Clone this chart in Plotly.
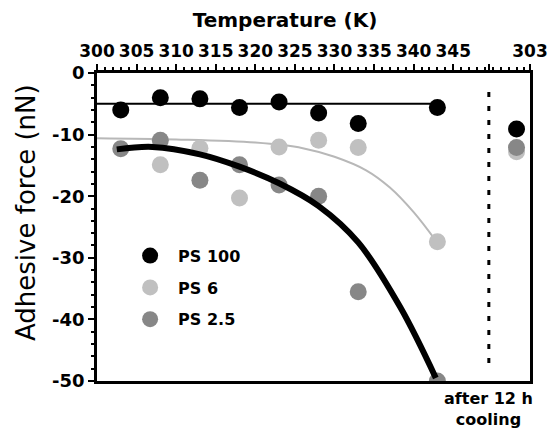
import plotly.graph_objects as go

# ---- data ----
temps = [303, 308, 313, 318, 323, 328, 333, 343]
cooling_x = 353.0          # position of the "after 12 h cooling" measurement (label 303 K)

ps100 = [-6.0, -4.0, -4.2, -5.6, -4.7, -6.5, -8.2, -5.6]
ps100_cool = -9.1
ps6_t = [308, 313, 318, 323, 328, 333, 343]
ps6 = [-14.9, -12.2, -20.3, -12.0, -10.9, -12.1, -27.4]
ps6_cool = -12.8
ps25 = [-12.3, -10.9, -17.4, -14.9, -18.2, -20.0, -35.5, -50.0]
ps25_cool = -12.1

# fitted guide curves
fit100_t = [300, 343]
fit100 = [-5.0, -5.0]
fit6_t = [300, 310, 320, 326, 330, 334, 337, 340, 342.9]
fit6 = [-10.6, -10.8, -11.3, -12.2, -13.6, -15.8, -18.6, -22.6, -27.4]
fit25_t = [302.5, 307, 313, 318, 323, 328, 333, 338.3, 342.8]
fit25 = [-12.4, -12.0, -13.2, -15.2, -17.9, -21.6, -27.5, -38.0, -49.5]

x_tickvals = [300, 305, 310, 315, 320, 325, 330, 335, 340, 345, 349.5, 354.7]
x_ticktext = ["300", "305", "310", "315", "320", "325", "330", "335", "340", "345", "", "303"]
y_tickvals = [0, -10, -20, -30, -40, -50]
y_ticktext = ["0", "-10", "-20", "-30", "-40", "-50"]
divider_x = 349.5

FONT = "DejaVu Sans"
C_BLACK = "#000000"
C_PS6 = "#c0c0c0"
C_PS25 = "#878787"
MS = 17

fig = go.Figure()

fig.add_trace(go.Scatter(x=fit6_t, y=fit6, mode="lines", line=dict(color="#b8b8b8", width=2, shape="spline"),
                         showlegend=False, hoverinfo="skip"))
fig.add_trace(go.Scatter(x=ps6_t + [cooling_x], y=ps6 + [ps6_cool], mode="markers", name="PS 6",
                         marker=dict(color=C_PS6, size=MS), legendrank=2, legendgroup="b"))
fig.add_trace(go.Scatter(x=temps + [cooling_x], y=ps25 + [ps25_cool], mode="markers", name="PS 2.5",
                         marker=dict(color=C_PS25, size=MS), legendrank=3, legendgroup="c"))
fig.add_trace(go.Scatter(x=fit25_t, y=fit25, mode="lines", line=dict(color=C_BLACK, width=6, shape="spline"),
                         showlegend=False, hoverinfo="skip"))
fig.add_trace(go.Scatter(x=fit100_t, y=fit100, mode="lines", line=dict(color=C_BLACK, width=2),
                         showlegend=False, hoverinfo="skip"))
fig.add_trace(go.Scatter(x=temps + [cooling_x], y=ps100 + [ps100_cool], mode="markers", name="PS 100",
                         marker=dict(color=C_BLACK, size=MS), legendrank=1, legendgroup="a"))

fig.add_shape(type="line", xref="x", yref="y", x0=divider_x, x1=divider_x, y0=-3.1, y1=-48.5,
              line=dict(color=C_BLACK, width=3, dash="5px,9px"))

fig.add_annotation(x=divider_x, xref="x", y=-0.02, yref="paper", yanchor="top",
                   text="after 12 h<br>cooling", showarrow=False, align="center",
                   font=dict(family=FONT, size=16, color=C_BLACK, weight="bold"))

# y-axis title (placed as rotated text, centred where the reference has it)
fig.add_annotation(x=(26 - 97) / 433, xref="paper", y=(381 - 213) / 308, yref="paper",
                   xanchor="center", yanchor="middle", textangle=-90,
                   text="Adhesive force (nN)", showarrow=False,
                   font=dict(family=FONT, size=26, color=C_BLACK))

fig.update_layout(
    width=548, height=432,
    margin=dict(l=97, r=18, t=73, b=51, autoexpand=False),
    paper_bgcolor="white", plot_bgcolor="white",
    font=dict(family=FONT, color=C_BLACK),
    title=dict(text="Temperature (K)", x=285 / 548, xanchor="center", xref="container",
               y=1 - 20 / 432, yanchor="middle", yref="container",
               font=dict(family=FONT, size=20, color=C_BLACK, weight="bold")),
    showlegend=True,
    legend=dict(x=0.058, y=0.462, xanchor="left", yanchor="top", bgcolor="rgba(0,0,0,0)",
                font=dict(family=FONT, size=16, color=C_BLACK, weight="bold"),
                traceorder="grouped", tracegroupgap=8, itemsizing="trace", itemwidth=46),
    xaxis=dict(side="top", range=[300, 354.7], tickvals=x_tickvals, ticktext=x_ticktext,
               ticks="outside", ticklen=6, tickwidth=2, tickcolor=C_BLACK,
               minor=dict(dtick=1, tick0=300, ticks="outside", ticklen=3, tickwidth=1.5, tickcolor=C_BLACK),
               showline=True, linewidth=2.5, linecolor=C_BLACK, mirror=True,
               showgrid=False, zeroline=False, automargin=False,
               tickfont=dict(family=FONT, size=17, color=C_BLACK, weight="bold")),
    yaxis=dict(range=[-50, 0], tickvals=y_tickvals, ticktext=y_ticktext,
               ticks="outside", ticklen=6, tickwidth=2, tickcolor=C_BLACK,
               minor=dict(dtick=2, tick0=0, ticks="outside", ticklen=3, tickwidth=1.5, tickcolor=C_BLACK),
               showline=True, linewidth=2.5, linecolor=C_BLACK, mirror=True,
               showgrid=False, zeroline=False, automargin=False,
               tickfont=dict(family=FONT, size=18, color=C_BLACK, weight="bold")),
)

fig.write_html("out.html", config={"displayModeBar": False},
               post_script="document.body.style.margin='0px';")
